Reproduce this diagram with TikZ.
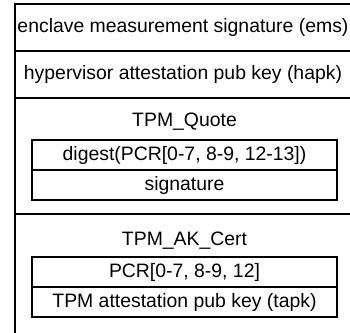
\documentclass[tikz,border=0pt]{standalone}
\usepackage{fontspec}
\setmainfont{Liberation Sans}
\usetikzlibrary{positioning}

\begin{document}
\begin{tikzpicture}[
    x=1pt, y=1pt,
    font=\fontsize{19.4}{22}\selectfont,
    row/.style={draw, line width=1.1pt, outer sep=0pt, inner sep=0pt, minimum width=336pt, minimum height=47pt},
    field/.style={draw, line width=1.1pt, outer sep=0pt, inner sep=0pt, minimum width=305pt, minimum height=30pt}
]
    \useasboundingbox (0,0) rectangle (350,332);
    \node[row, anchor=north west] (ems) at (15,328) {enclave measurement signature (ems)};
    \node[row, below=0pt of ems] (hapk) {hypervisor attestation pub key (hapk)};
    \node[row, below=0pt of hapk, minimum height=116pt] (quote) {};
    \node[row, below=0pt of quote, minimum height=130pt] (cert) {};

    \node (quotetitle) at ([xshift=1.5pt, yshift=-24pt]quote.north) {TPM\_Quote};
    \node[field, below=42pt of quote.north, xshift=1.5pt] (digest) {digest(PCR[0-7, 8-9, 12-13])};
    \node[field, below=0pt of digest] (sig) {signature};

    \node (certtitle) at ([xshift=1.5pt, yshift=-27pt]cert.north) {TPM\_AK\_Cert};
    \node[field, below=43pt of cert.north, xshift=1.5pt] (pcr) {PCR[0-7, 8-9, 12]};
    \node[field, below=0pt of pcr] (tapk) {TPM attestation pub key (tapk)};
\end{tikzpicture}
\end{document}
